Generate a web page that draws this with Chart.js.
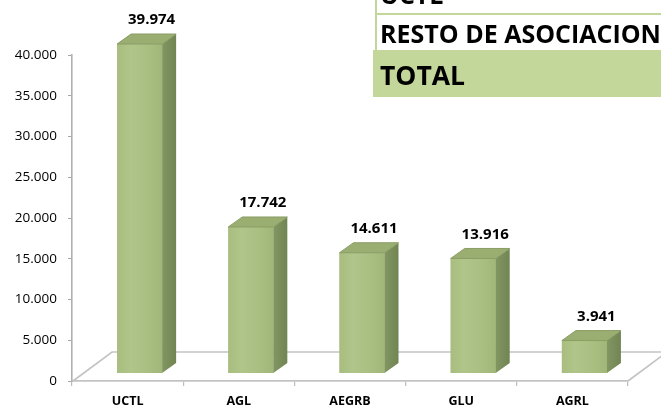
<!DOCTYPE html>
<html>
<head>
<meta charset="utf-8">
<script src="https://cdn.jsdelivr.net/npm/chart.js@4.4.1/dist/chart.umd.min.js"></script>
<style>
  html, body { margin: 0; padding: 0; background: #ffffff; }
  #wrap { position: relative; width: 661px; height: 408px; overflow: hidden; }
  #c { position: absolute; left: 0; top: 0; }
  #tbl { position: absolute; left: 373px; top: 0; width: 288px; height: 97px; overflow: hidden; }
  .row { position: absolute; left: 0; width: 288px; }
  .txt { position: absolute; left: 7px; white-space: nowrap; font-family: "Open Sans", sans-serif; font-weight: bold; color: #000; line-height: 1; }
</style>
</head>
<body>
<div id="wrap">
  <canvas id="c" width="661" height="408"></canvas>
  <div id="tbl"></div>
</div>
<script>
// ---- data ----
const categories = ['UCTL', 'AGL', 'AEGRB', 'GLU', 'AGRL'];
const values = [39974, 17742, 14611, 13916, 3941];
const tableRows = ['UCTL', 'RESTO DE ASOCIACIONES', 'TOTAL'];
const yMax = 40000;
const yStep = 5000;

function fmt(v) {
  return String(Math.round(v)).replace(/\B(?=(\d{3})+(?!\d))/g, '.');
}

// ---- table overlay (real text) ----
(function buildTable() {
  const t = document.getElementById('tbl');
  const vl = document.createElement('div');
  vl.style.cssText = 'position:absolute;left:2px;top:0;width:2px;height:50px;background:#c4d79b;';
  t.appendChild(vl);
  const hl = document.createElement('div');
  hl.style.cssText = 'position:absolute;left:2px;top:13px;width:286px;height:2px;background:#c4d79b;';
  t.appendChild(hl);
  const g = document.createElement('div');
  g.className = 'row';
  g.style.cssText += 'top:50px;height:47px;background:#c4d79b;';
  t.appendChild(g);
  const specs = [
    { text: tableRows[0], top: -18, size: 25 },
    { text: tableRows[1], top: 21, size: 25 },
    { text: tableRows[2], top: 62, size: 26.5 }
  ];
  specs.forEach(s => {
    const d = document.createElement('div');
    d.className = 'txt';
    d.style.top = s.top + 'px';
    d.style.fontSize = s.size + 'px';
    d.textContent = s.text;
    t.appendChild(d);
  });
})();

// ---- 3D helpers ----
const DEPTH_X = 14, DEPTH_Y = -10;   // bar depth
const FLOOR_X = 39, FLOOR_Y = -29;   // floor depth
const SHIFT_X = 12;                  // bar shift into floor

const floorAndBars = {
  id: 'floorAndBars',
  beforeDatasetsDraw(chart) {
    const { ctx, chartArea: a } = chart;
    ctx.save();
    ctx.strokeStyle = '#c3c3c3';
    ctx.lineWidth = 1.6;
    ctx.beginPath();
    ctx.moveTo(a.left + 1, a.bottom);
    ctx.lineTo(a.left + 1 + FLOOR_X, a.bottom + FLOOR_Y);
    ctx.lineTo(a.right + 60, a.bottom + FLOOR_Y);
    ctx.moveTo(a.right, a.bottom);
    ctx.lineTo(a.right + FLOOR_X, a.bottom + FLOOR_Y);
    ctx.stroke();
    ctx.restore();
    ctx.save();
    ctx.translate(SHIFT_X, 0);
  },
  afterDatasetsDraw(chart) {
    const { ctx } = chart;
    const meta = chart.getDatasetMeta(0);
    meta.data.forEach(el => {
      const w = el.width;
      const l = el.x - w / 2, r = el.x + w / 2;
      const top = el.y, base = el.base;
      const gf = ctx.createLinearGradient(l, 0, r, 0);
      gf.addColorStop(0, '#a8bd7f');
      gf.addColorStop(0.3, '#b0c589');
      gf.addColorStop(0.7, '#a9bf82');
      gf.addColorStop(1, '#a1b779');
      ctx.fillStyle = gf;
      ctx.fillRect(l, top, w, base - top);
      const gs = ctx.createLinearGradient(r, 0, r + DEPTH_X, 0);
      gs.addColorStop(0, '#819661');
      gs.addColorStop(1, '#708553');
      ctx.fillStyle = gs;
      ctx.beginPath();
      ctx.moveTo(r, top);
      ctx.lineTo(r + DEPTH_X, top + DEPTH_Y);
      ctx.lineTo(r + DEPTH_X, base + DEPTH_Y);
      ctx.lineTo(r, base);
      ctx.closePath();
      ctx.fill();
      ctx.fillStyle = '#9aae72';
      ctx.strokeStyle = '#8a9d66';
      ctx.lineWidth = 1;
      ctx.beginPath();
      ctx.moveTo(l, top);
      ctx.lineTo(l + DEPTH_X, top + DEPTH_Y);
      ctx.lineTo(r + DEPTH_X, top + DEPTH_Y);
      ctx.lineTo(r, top);
      ctx.closePath();
      ctx.fill();
      ctx.stroke();
    });
    ctx.restore();
    ctx.save();
    ctx.font = 'bold 15px "Open Sans", sans-serif';
    ctx.fillStyle = '#000';
    ctx.textAlign = 'center';
    ctx.textBaseline = 'middle';
    meta.data.forEach((el, i) => {
      ctx.fillText(fmt(values[i]), el.x + SHIFT_X + 12, el.y - 24);
    });
    ctx.restore();
  }
};

new Chart(document.getElementById('c'), {
  type: 'bar',
  data: {
    labels: categories,
    datasets: [{
      data: values,
      yAxisID: 'yb',
      backgroundColor: '#aabf82',
      borderWidth: 0,
      categoryPercentage: 1.0,
      barPercentage: 0.405,
      clip: false
    }]
  },
  options: {
    responsive: false,
    devicePixelRatio: 1,
    animation: false,
    layout: { padding: { left: 0, top: 55, right: 33, bottom: 0 } },
    plugins: { legend: { display: false }, tooltip: { enabled: false } },
    scales: {
      x: {
        offset: true,
        grid: { offset: true, drawOnChartArea: false, drawTicks: true, tickLength: 5, color: '#bdbdbd', lineWidth: 1.2 },
        border: { display: true, color: '#c3c3c3', width: 1.8 },
        ticks: { font: { family: '"Open Sans", sans-serif', size: 12.5, weight: 'bold' }, color: '#000', padding: 8, maxRotation: 0 },
        afterFit(s) { s.height = 27; }
      },
      y: {
        min: 0,
        max: yMax,
        ticks: { stepSize: yStep, callback: v => fmt(v), font: { family: '"Open Sans", sans-serif', size: 13.5 }, color: '#000', padding: 11 },
        grid: { drawOnChartArea: false, tickLength: 4, color: '#a6a6a6', lineWidth: 1 },
        border: { display: true, color: '#b0b0b0', width: 1.6 },
        afterFit(s) { s.width = 72; }
      },
      yb: {
        display: false,
        min: -972,
        max: 38638
      }
    }
  },
  plugins: [floorAndBars]
});
</script>
</body>
</html>
